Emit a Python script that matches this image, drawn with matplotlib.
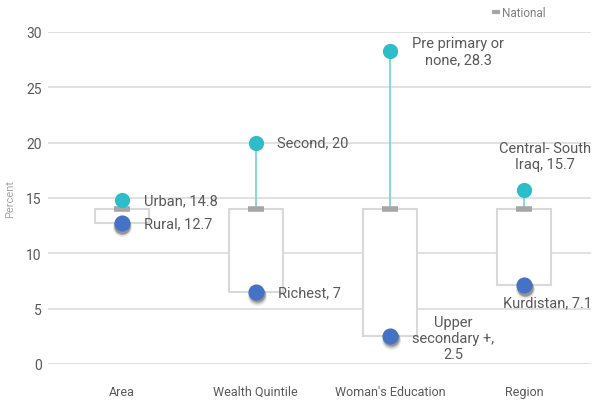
import matplotlib.pyplot as plt
import matplotlib.transforms as mtransforms
from matplotlib.lines import Line2D
from matplotlib.patches import Rectangle

categories = ["Area", "Wealth Quintile", "Woman's Education", "Region"]
national = [14.0, 14.0, 14.0, 14.0]
high_vals = [14.8, 20.0, 28.3, 15.7]
low_vals = [12.7, 6.5, 2.5, 7.1]
high_labels = ["Urban, 14.8", "Second, 20", "Pre primary or\nnone, 28.3", "Central- South\nIraq, 15.7"]
low_labels = ["Rural, 12.7", "Richest, 7", "Upper\nsecondary +,\n2.5", "Kurdistan, 7.1"]
yticks = [0, 5, 10, 15, 20, 25, 30]

plt.rcParams['font.family'] = ['Roboto', 'DejaVu Sans']

TEAL = '#2dbdc8'
TEAL_LINE = '#72d1d8'
BLUE = '#4472c4'
GRAY = '#a6a6a6'
TXT = '#595959'

fig = plt.figure(figsize=(6.06, 4.06), dpi=100)
ax = fig.add_axes([48 / 606, 41 / 406, 543 / 606, 332 / 406])
ax.set_xlim(-0.55, 3.5)
ax.set_ylim(0, 30)

for s in ax.spines.values():
    s.set_visible(False)
ax.set_yticks(yticks)
ax.yaxis.grid(True, color='#d9d9d9', linewidth=1.1)
ax.set_axisbelow(True)
ax.tick_params(axis='both', length=0, colors='#595959', labelsize=10)
ax.tick_params(axis='y', pad=4.5)
ax.set_xticks(range(len(categories)))
ax.set_xticklabels(categories, fontsize=9, color='#595959')
ax.tick_params(axis='x', pad=15)
ax.set_ylabel('Percent', fontsize=8, color='#a6a6a6', labelpad=8)

bw = 0.4
for i in range(len(categories)):
    lo, nat, hi = low_vals[i], national[i], high_vals[i]
    ax.add_patch(Rectangle((i - bw / 2, lo), bw, nat - lo, facecolor='white',
                           edgecolor='#d9d9d9', linewidth=1.5, zorder=2))
    ax.plot([i, i], [nat, hi], color=TEAL_LINE, linewidth=1.2, zorder=3)

xs = list(range(len(categories)))
ax.plot(xs, national, linestyle='none', marker='_', markersize=12,
        markeredgewidth=4, color=GRAY, zorder=4)

# soft shadow under the blue dots
for k, sz, a in [(2.5, 190, 0.08), (2.0, 160, 0.15), (1.5, 135, 0.25)]:
    tr = mtransforms.offset_copy(ax.transData, fig=fig, x=0.5, y=-k, units='points')
    ax.scatter(xs, low_vals, s=sz, color='black', alpha=a,
               transform=tr, zorder=4, linewidths=0)
ax.scatter(xs, low_vals, s=135, color=BLUE, zorder=5, linewidths=0)
ax.scatter(xs, high_vals, s=120, color=TEAL, zorder=5, linewidths=0)

fs = 10.5
# high labels
ax.annotate(high_labels[0], (0, high_vals[0]), xytext=(16, 0), textcoords='offset points',
            ha='left', va='center', fontsize=fs, color=TXT)
ax.annotate(high_labels[1], (1, high_vals[1]), xytext=(15, 0), textcoords='offset points',
            ha='left', va='center', fontsize=fs, color=TXT)
ax.annotate(high_labels[2], (2, high_vals[2]), xytext=(16, 0), textcoords='offset points',
            ha='left', va='center', fontsize=fs, color=TXT, multialignment='center')
ax.annotate(high_labels[3], (3, high_vals[3]), xytext=(15, 14), textcoords='offset points',
            ha='center', va='bottom', fontsize=fs, color=TXT, multialignment='center')
# low labels
ax.annotate(low_labels[0], (0, low_vals[0]), xytext=(16, 0), textcoords='offset points',
            ha='left', va='center', fontsize=fs, color=TXT)
ax.annotate(low_labels[1], (1, low_vals[1]), xytext=(16, 0), textcoords='offset points',
            ha='left', va='center', fontsize=fs, color=TXT)
ax.annotate(low_labels[2], (2, low_vals[2]), xytext=(16, -1), textcoords='offset points',
            ha='left', va='center', fontsize=fs, color=TXT, multialignment='center')
ax.annotate(low_labels[3], (3, low_vals[3]), xytext=(-15, -12), textcoords='offset points',
            ha='left', va='center', fontsize=fs, color=TXT)

handle = Line2D([], [], linestyle='none', marker='_', markersize=6, markeredgewidth=3, color=GRAY)
fig.legend([handle], ['National'], loc='upper right', bbox_to_anchor=(553 / 606, 1.0),
           frameon=False, fontsize=8.5, labelcolor='#7f7f7f', handlelength=0.6,
           handletextpad=0.2, borderaxespad=0.2)

fig.savefig('out.png', dpi=100)
